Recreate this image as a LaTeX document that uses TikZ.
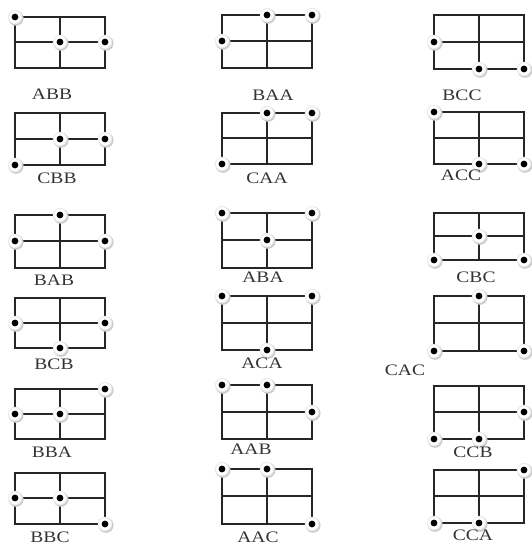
\documentclass[tikz,border=0pt]{standalone}
\usepackage{fontspec}
\setmainfont{Liberation Serif}

\def\frA{0}
\def\frB{0.5}
\def\frC{1}

\tikzset{
  gridline/.style={line width=1.3pt, black!85},
  lab/.style={font=\fontsize{16}{16}\selectfont, text=black!80, xscale=1.22, inner sep=0pt},
}

% one peg at column #1 (0,1,2) of a box: left #2, top #3, bottom #4, row letter #5
\newcommand\peg[5]{%
  \pgfmathsetmacro\pegx{#2+45*#1}%
  \pgfmathsetmacro\pegy{int(#3+\csname fr#5\endcsname*(#4-#3))}%
  \fill[gray!40] (\pegx+1,\pegy+1.2) circle (7.6);
  \fill[gray!15] (\pegx,\pegy) circle (7.2);
  \fill[white] (\pegx,\pegy) circle (6);
  \fill[black] (\pegx,\pegy) circle (3.4);
}

% box at left #1, top #2, bottom #3; pegs #4#5#6; label at (#7,#8)
\newcommand\panel[8]{%
  \draw[gridline] (#1,#2) rectangle (#1+90,#3);
  \draw[gridline] (#1,{int((#2+#3)/2)}) -- (#1+90,{int((#2+#3)/2)});
  \draw[gridline] (#1+45,#2) -- (#1+45,#3);
  \peg{0}{#1}{#2}{#3}{#4}
  \peg{1}{#1}{#2}{#3}{#5}
  \peg{2}{#1}{#2}{#3}{#6}
  \node[lab] (lbl-#4#5#6) at (#7,#8) {#4#5#6};
}

\begin{document}
\begin{tikzpicture}[x=1pt,y=-1pt]
\useasboundingbox (0,0) rectangle (532,546);
% left column
\panel{15}{17}{68}{A}{B}{B}{52}{94}
\panel{15}{113}{165}{C}{B}{B}{57}{178}
\panel{15}{215}{268}{B}{A}{B}{54}{280}
\panel{15}{298}{348}{B}{C}{B}{54}{364}
\panel{15}{389}{439}{B}{B}{A}{52}{452}
\panel{15}{473}{524}{B}{B}{C}{50}{537}
% middle column
\panel{222}{15}{68}{B}{A}{A}{273}{95}
\panel{222}{113}{164}{C}{A}{A}{267}{178}
\panel{222}{213}{268}{A}{B}{A}{263}{277}
\panel{222}{296}{350}{A}{C}{A}{262}{363}
\panel{222}{385}{439}{A}{A}{B}{251}{449}
\panel{222}{469}{524}{A}{A}{C}{258}{537}
% right column
\panel{434}{15}{69}{B}{C}{C}{462}{95}
\panel{434}{112}{164}{A}{C}{C}{461}{175}
\panel{434}{213}{260}{C}{B}{C}{476}{277}
\panel{434}{296}{351}{C}{A}{C}{405}{370}
\panel{434}{386}{439}{C}{C}{B}{473}{452}
\panel{434}{470}{523}{C}{C}{A}{473}{535}
\end{tikzpicture}
\end{document}
